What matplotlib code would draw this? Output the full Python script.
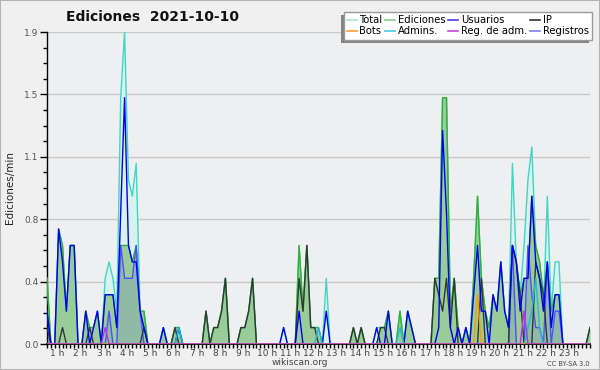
import matplotlib
matplotlib.use("Agg")
import matplotlib.pyplot as plt
import matplotlib.transforms as mtransforms
from matplotlib.lines import Line2D
from matplotlib.patches import Rectangle
import numpy as np

# ---- data: 10-minute bins from 00:40 to 24:00 (edits per minute) ----
bin_minutes = list(range(40, 1441, 10))          # 141 bins
hours_axis = [m / 60 for m in bin_minutes]

total = [
    .4, 0, 0, .7, .6, .2, .6, .6, 0, 0,
    .2, .1, .1, .2, 0, .4, .5, .4, .2, 1.5,
    1.9, 1.0, .9, 1.1, .2, .2, 0, 0, 0, 0,
    .1, 0, 0, .1, .1, 0, 0, 0, 0, 0,
    0, .2, 0, .1, .1, .2, .4, 0, 0, 0,
    .1, .1, .2, .4, 0, 0, 0, 0, 0, 0,
    0, .1, 0, 0, 0, .6, .2, .6, .1, .1,
    .1, 0, .4, 0, 0, 0, 0, 0, 0, .1,
    0, .1, 0, 0, 0, .1, .1, .1, .2, 0,
    0, .2, 0, .2, .1, 0, 0, 0, 0, 0,
    .4, .4, 1.5, 1.5, .2, .4, .1, 0, .1, 0,
    .4, .9, .4, .2, .1, .3, .2, .5, .2, .1,
    1.1, .5, .3, .6, 1.0, 1.2, .6, .5, .2, .9,
    .2, .5, .5, 0, 0, 0, 0, 0, 0, 0,
    .1,
]
ediciones = [
    .4, 0, 0, .7, .6, .2, .6, .6, 0, 0,
    .2, .1, .1, .2, 0, .3, .3, .3, .1, .6,
    .6, .6, .5, .6, .2, .2, 0, 0, 0, 0,
    .1, 0, 0, .1, .1, 0, 0, 0, 0, 0,
    0, .2, 0, .1, .1, .2, .4, 0, 0, 0,
    .1, .1, .2, .4, 0, 0, 0, 0, 0, 0,
    0, 0, 0, 0, 0, .6, .2, .6, .1, .1,
    .1, 0, 0, 0, 0, 0, 0, 0, 0, .1,
    0, .1, 0, 0, 0, 0, .1, .1, .2, 0,
    0, .2, 0, .2, .1, 0, 0, 0, 0, 0,
    .4, .4, 1.5, 1.5, .2, .4, .1, 0, .1, 0,
    .4, .9, .4, .2, .1, .3, .2, .5, .2, .1,
    .6, .5, .3, .4, .4, .9, .6, .5, .3, .5,
    .2, .3, .3, 0, 0, 0, 0, 0, 0, 0,
    .1,
]
usuarios = [
    .2, 0, 0, .7, .5, .2, .6, .6, 0, 0,
    .2, 0, .1, .2, 0, .3, .3, .3, .1, .8,
    1.5, .6, .5, .5, .2, .1, 0, 0, 0, 0,
    .1, 0, 0, 0, .1, 0, 0, 0, 0, 0,
    0, 0, 0, 0, 0, 0, 0, 0, 0, 0,
    0, 0, 0, 0, 0, 0, 0, 0, 0, 0,
    0, .1, 0, 0, 0, .2, 0, 0, 0, 0,
    0, 0, .2, 0, 0, 0, 0, 0, 0, 0,
    0, 0, 0, 0, 0, .1, 0, 0, .2, 0,
    0, 0, 0, .2, .1, 0, 0, 0, 0, 0,
    0, .1, 1.3, .8, .1, 0, .1, 0, .1, 0,
    .3, .6, .2, .2, 0, .3, .2, .5, .2, .1,
    .6, .5, .2, .4, .4, .9, .5, .4, .2, .5,
    .1, .3, .3, 0, 0, 0, 0, 0, 0, 0,
    0,
]
ip = [
    .1, 0, 0, 0, .1, 0, 0, 0, 0, 0,
    0, .1, 0, 0, 0, 0, 0, 0, 0, 0,
    0, 0, 0, 0, 0, .1, 0, 0, 0, 0,
    0, 0, 0, .1, 0, 0, 0, 0, 0, 0,
    0, .2, 0, .1, .1, .2, .4, 0, 0, 0,
    .1, .1, .2, .4, 0, 0, 0, 0, 0, 0,
    0, 0, 0, 0, 0, .4, .2, .6, .1, .1,
    0, 0, 0, 0, 0, 0, 0, 0, 0, .1,
    0, .1, 0, 0, 0, 0, .1, .1, 0, 0,
    0, 0, 0, 0, 0, 0, 0, 0, 0, 0,
    .4, .3, .2, .4, .1, .4, 0, 0, 0, 0,
    0, 0, .4, 0, 0, 0, 0, 0, 0, 0,
    .6, .5, .3, 0, 0, 0, .5, .4, .3, 0,
    0, 0, 0, 0, 0, 0, 0, 0, 0, 0,
    .1,
]
# sparse series: non-zero bins only (HH:MM -> edits/min)
bots = {"19:10": .3}
admins = {"06:20": .1, "12:20": .1, "15:50": .1,
          "21:20": .1, "21:30": .2, "21:40": .4, "21:50": .1}
reg_adm = {"03:10": .1, "21:10": .2}
registros = {"00:40": .2, "03:20": .2, "03:50": .6, "04:00": .4, "04:10": .4,
             "04:20": .4, "04:30": .6, "04:40": .2, "20:40": .6, "21:20": .6,
             "21:30": .3, "21:40": .1, "21:50": .1, "22:10": .5, "22:30": .2,
             "22:40": .2}

y_tick_values = [0, 0.38, 0.76, 1.14, 1.52, 1.9]
y_tick_labels = ["0.0", "0.4", "0.8", "1.1", "1.5", "1.9"]
x_hours = list(range(1, 24))
x_labels = [f"{h} h" for h in x_hours]


def expand(sparse):
    out = []
    for m in bin_minutes:
        key = f"{m // 60:02d}:{m % 60:02d}"
        out.append(sparse.get(key, 0))
    return out


for s in (total, ediciones, usuarios, ip):
    assert len(s) == len(bin_minutes)

# ---- figure ----
fig = plt.figure(figsize=(6, 3.7), dpi=100, facecolor="#f0f0f0")
fig.patches.append(Rectangle((0, 0), 1, 1, transform=fig.transFigure,
                             fill=False, edgecolor="#b4b4b4", lw=1.5))
ax = fig.add_axes([47 / 600, 26 / 370, 543 / 600, 312 / 370])
ax.set_facecolor("#eeeff1")

ax.fill_between(hours_axis, total, color="#d9f2ee", lw=0, zorder=1)
ax.fill_between(hours_axis, ediciones, color="#99cc99", lw=0, zorder=2)
ax.fill_between(hours_axis, expand(registros), color="#4444ff", alpha=0.13,
                lw=0, zorder=3)
ax.plot(hours_axis, total, color="#3fd6c6", lw=1.0, zorder=4)
ax.plot(hours_axis, ediciones, color="#33b033", lw=1.0, zorder=5)
ax.plot(hours_axis, expand(registros), color="#4f4fff", lw=1.0, zorder=6)
ax.plot(hours_axis, ip, color="#333833", lw=1.0, zorder=7)
ax.plot(hours_axis, usuarios, color="#0000ee", lw=1.0, zorder=8)
ax.plot(hours_axis, expand(admins), color="#22bbdd", lw=1.0, zorder=9)
ax.plot(hours_axis, expand(bots), color="#ff9900", lw=1.0, zorder=9)
ax.plot(hours_axis, expand(reg_adm), color="#bb33dd", lw=1.0, zorder=9)

ax.set_xlim(hours_axis[0], hours_axis[-1])
ax.set_ylim(0, 1.9)

ax.set_yticks(y_tick_values)
ax.set_yticklabels(y_tick_labels)
ax.set_yticks(np.arange(0, 1.91, 0.095), minor=True)
ax.set_xticks(x_hours)
ax.set_xticklabels(x_labels)
ax.set_xticks([m / 60 for m in bin_minutes], minor=True)

ax.grid(axis="y", color="#c8c8c8", lw=1.0)
ax.set_axisbelow(True)
for sp in ("top", "right"):
    ax.spines[sp].set_visible(False)
ax.spines["left"].set_linewidth(1.0)
ax.spines["bottom"].set_linewidth(1.2)

ax.tick_params(axis="y", which="major", length=5, width=1, labelsize=6.5,
               labelcolor="#555555", pad=1)
ax.tick_params(axis="y", which="minor", length=3, width=1)
ax.tick_params(axis="x", which="major", length=3, width=1, labelsize=6.5,
               labelcolor="#444444", pad=0.5)
ax.tick_params(axis="x", which="minor", length=3, width=1)
offset = mtransforms.ScaledTranslation(2.5 / 100, 0, fig.dpi_scale_trans)
for lbl in ax.get_xticklabels():
    lbl.set_transform(lbl.get_transform() + offset)

fig.text(153 / 600, 1 - 17 / 370, "Ediciones  2021-10-10", ha="center",
         va="center", fontsize=10, fontweight="bold", color="#111111")
fig.text(10 / 600, 1 - 188 / 370, "Ediciones/min", rotation=90, ha="center",
         va="center", fontsize=7.5, color="#222222")
fig.text(300 / 600, 1 - 362.5 / 370, "wikiscan.org", ha="center", va="center",
         fontsize=6.5, color="#444444")
fig.text(590 / 600, 1 - 364 / 370, "CC BY-SA 3.0", ha="right", va="center",
         fontsize=4.8, color="#444444")

legend_names = ["Total", "Bots", "Ediciones", "Admins.", "Usuarios",
                "Reg. de adm.", "IP", "Registros"]
legend_colors = ["#a8e6dc", "#ff9933", "#88cc88", "#44ccdd", "#4444dd",
                 "#cc44dd", "#333333", "#8080ee"]
handles = [Line2D([], [], color=c, lw=1.2) for c in legend_colors]
leg = fig.legend(handles, legend_names, ncol=4, loc="upper right",
                 bbox_to_anchor=(592 / 600, 1 - 12 / 370), fontsize=7.2,
                 frameon=True, fancybox=False, edgecolor="#999999",
                 framealpha=1, facecolor="white", shadow=False,
                 handlelength=1.0, handletextpad=0.3, columnspacing=0.25,
                 labelspacing=0.15, borderpad=0.3, borderaxespad=0)
leg.set_zorder(10)

# manual drop shadow (offset left/down) behind the legend box
fig.canvas.draw()
bb = leg.get_window_extent().transformed(fig.transFigure.inverted())
dx, dy = 3 / 600, 3 / 370
fig.patches.append(Rectangle((bb.x0 - dx, bb.y0 - dy), bb.width, bb.height,
                             transform=fig.transFigure, facecolor="#858585",
                             edgecolor="none", zorder=5))

fig.savefig("out.png", dpi=100, facecolor=fig.get_facecolor())
